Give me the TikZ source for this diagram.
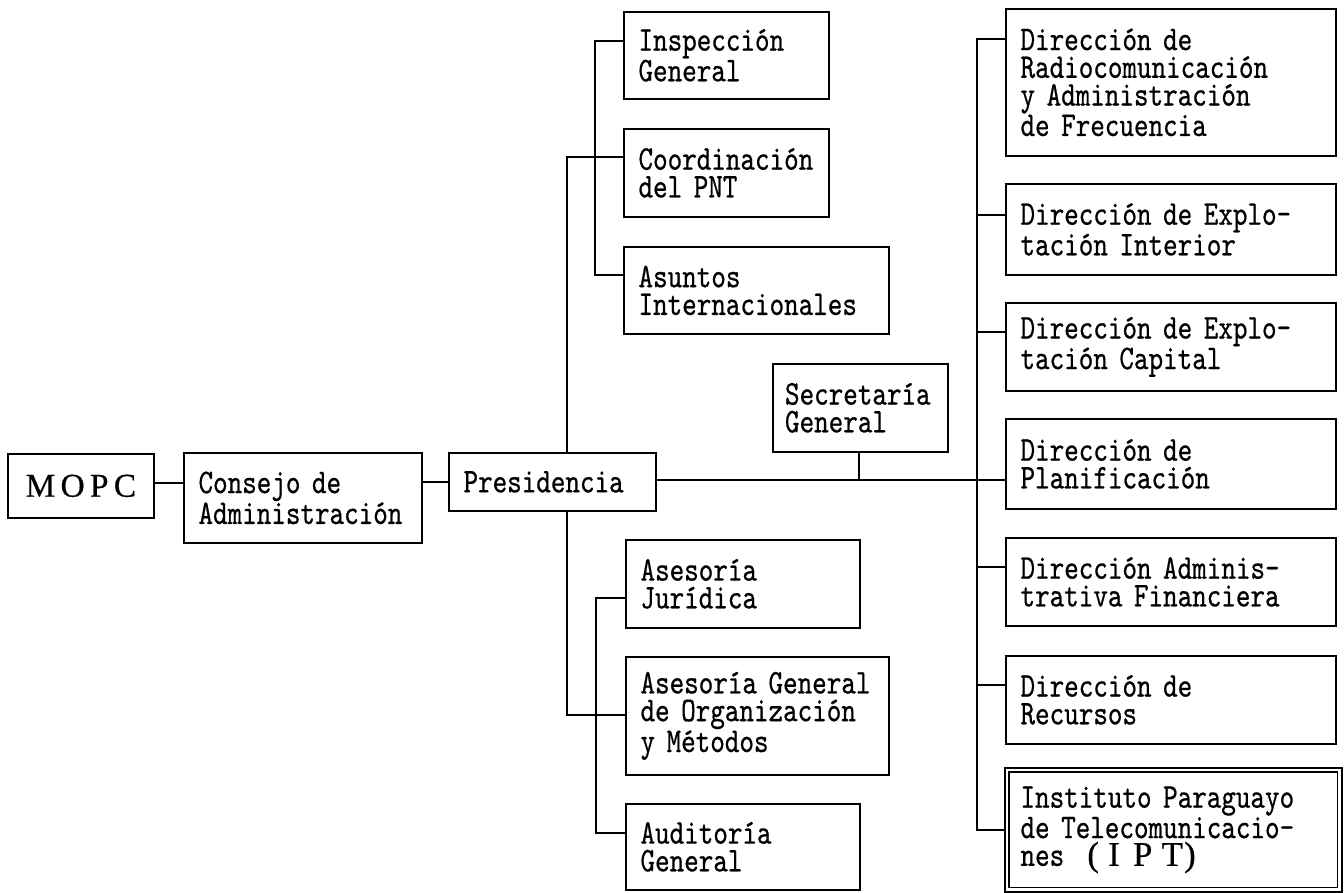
\documentclass[tikz,border=0pt]{standalone}
\usepackage{fontspec}
\newfontfamily\boxfont{lmmono10-regular.otf}[FakeStretch=0.8,FakeBold=0.6]
\newfontfamily\romfont{Liberation Serif}[FakeBold=0.5]
\tikzset{
  px/.style={x=0.75pt,y=-0.75pt},
  lbl/.style={font=\boxfont\fontsize{26pt}{20.8pt}\selectfont},
  unit/.style n args={2}{draw, line width=1.3pt, rectangle, anchor=north west,
    inner xsep=11pt, inner ysep=0pt, align=left, lbl,
    minimum width=#1, minimum height=#2, text width=#1-22pt},
  wire/.style={line width=1.3pt}
}
\begin{document}
\begin{tikzpicture}[px]
\useasboundingbox (0,0) rectangle (1344,892);

% head of the chain
\node[draw, line width=1.3pt, anchor=north west, minimum width=109.5pt,
      minimum height=48pt, inner sep=0pt,
      font=\romfont\fontsize{25pt}{26pt}\selectfont] (mopc) at (7,453)
      {M\hspace{4pt}O\hspace{4pt}P\hspace{4pt}C};
\node[unit={178.5pt}{67.5pt}] (consejo) at (183,452) {Consejo~de\\Administración};
\node[unit={155.25pt}{43.5pt}] (pres) at (448,452) {Presidencia};

% staff units above Presidencia
\node[unit={153.75pt}{65.25pt}] (insp) at (623,11) {Inspección\\General};
\node[unit={153.75pt}{66pt}] (coord) at (623,128) {Coordinación\\del~PNT};
\node[unit={198.75pt}{65.25pt}] (asuntos) at (623,246) {Asuntos\\Internacionales};

% staff units below Presidencia
\node[unit={175.5pt}{66pt}] (jur) at (625,539) {Asesoría\\Jurídica};
\node[unit={197.25pt}{88.5pt}] (aseg) at (625,656) {Asesoría~General\\de~Organización\\y~Métodos};
\node[unit={175.5pt}{64.5pt}] (audit) at (625,803) {Auditoría\\General};

% general secretariat
\node[unit={131.25pt}{66pt}, inner xsep=9pt, text width=113pt] (secg) at (772,363) {Secretaría\\General};

% line directorates
\node[unit={247.5pt}{110.25pt}] (d1) at (1005,8) {Dirección~de\\Radiocomunicación\\y~Administración\\de~Frecuencia};
\node[unit={247.5pt}{68.25pt}] (d2) at (1005,183) {Dirección~de~Explo-\\tación~Interior};
\node[unit={247.5pt}{66pt}] (d3) at (1005,302) {Dirección~de~Explo-\\tación~Capital};
\node[unit={247.5pt}{67.5pt}] (d4) at (1005,418) {Dirección~de\\Planificación};
\node[unit={247.5pt}{66pt}] (d5) at (1005,537) {Dirección~Adminis-\\trativa~Financiera};
\node[unit={247.5pt}{66pt}] (d6) at (1005,655) {Dirección~de\\Recursos};
\node[unit={251.25pt}{91.5pt}, draw=none] (ipt) at (1005,768)
  {Instituto~Paraguayo\\de~Telecomunicacio-\\nes~~{\romfont\fontsize{26pt}{20.8pt}\selectfont(\kern7pt I\kern10pt P\kern7pt T\kern1pt)}};
\draw[line width=1.3pt] (ipt.north west) rectangle (ipt.south east);
\draw[line width=0.9pt] ([shift={(4,4)}]ipt.north west) rectangle ([shift={(-4,-4)}]ipt.south east);

% junction points
\coordinate (up) at (567,157);
\coordinate (dn) at (567,715);
\coordinate (ubus) at (595,41);
\coordinate (ubusE) at (595,275);
\coordinate (lbus) at (596,598);
\coordinate (lbusE) at (596,833);
\coordinate (rbus) at (977,39);
\coordinate (rbusE) at (977,830);
\coordinate (sj) at (859,480);

% connectors
\draw[wire] (mopc.east |- 0,483) -- (consejo.west |- 0,483);
\draw[wire] (consejo.east |- pres.west) -- (pres.west);
\draw[wire] (pres.north -| up) -- (up) -- (coord.west |- up);
\draw[wire] (pres.south -| dn) -- (dn) -- (aseg.west |- dn);
\draw[wire] (insp.west |- ubus) -- (ubus) -- (ubusE) -- (asuntos.west |- ubusE);
\draw[wire] (jur.west |- lbus) -- (lbus) -- (lbusE) -- (audit.west |- lbusE);
\draw[wire] (pres.east |- sj) -- (rbus |- sj);
\draw[wire] (secg.south -| sj) -- (sj);
\draw[wire] (d1.west |- rbus) -- (rbus) -- (rbusE) -- (ipt.west |- rbusE);
\foreach \n/\y in {d2/215, d3/332, d4/480, d5/567, d6/685}
  \draw[wire] (rbus |- 0,\y) -- (\n.west |- 0,\y);
\end{tikzpicture}
\end{document}
